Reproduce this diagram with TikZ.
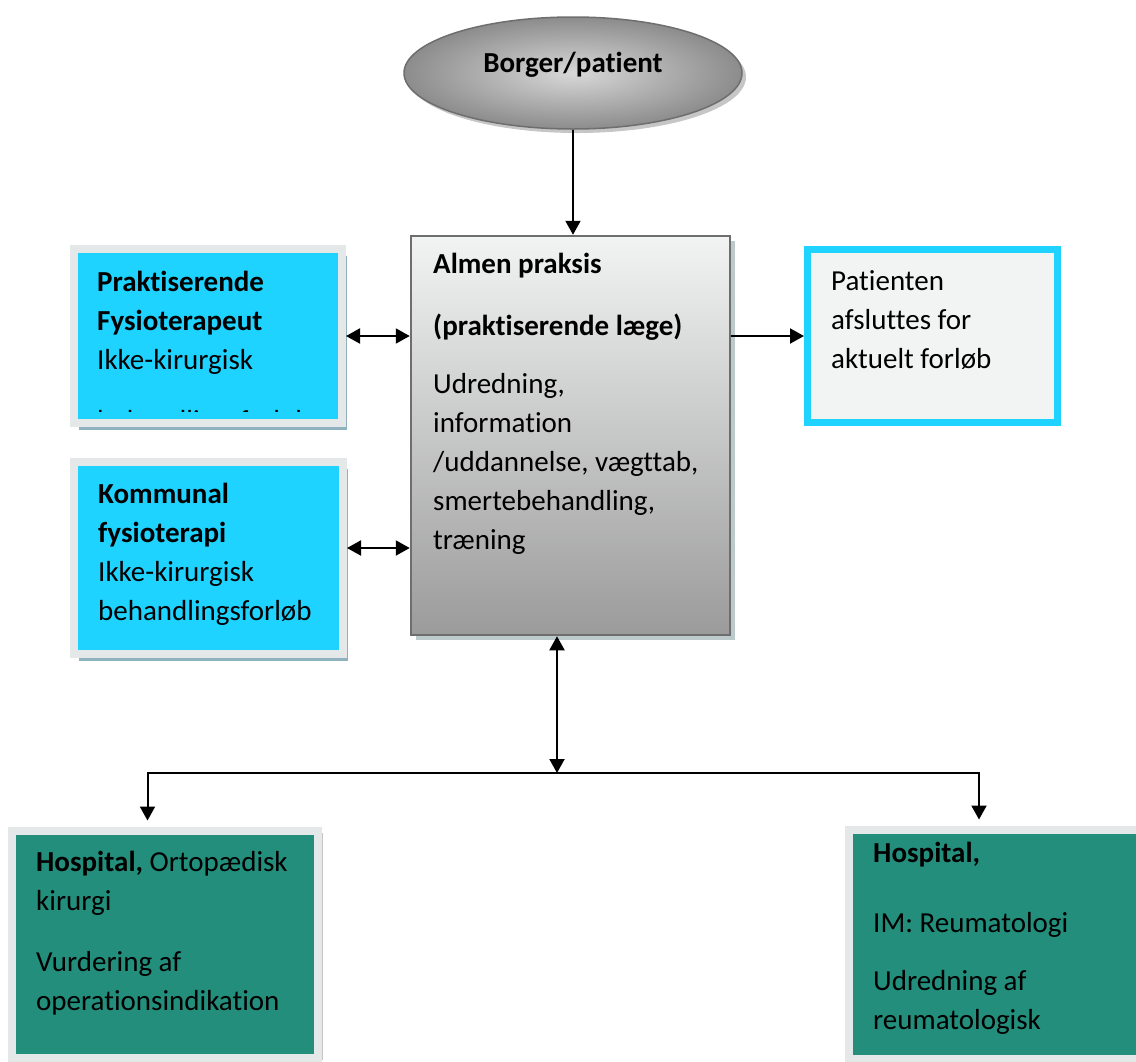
\documentclass[tikz,border=0pt]{standalone}
\usepackage{fontspec}
\setmainfont{Carlito}[Ligatures=NoCommon]
\usepackage{tikz}
\usetikzlibrary{arrows.meta,positioning,shapes.geometric,shadows}
\definecolor{cyanfill}{RGB}{30,211,255}
\definecolor{framegray}{RGB}{228,232,233}
\definecolor{shadowblue}{RGB}{143,178,190}
\definecolor{tealfill}{RGB}{34,142,123}
\definecolor{boxgray}{RGB}{242,243,243}
\definecolor{edgegray}{RGB}{110,110,110}

\begin{document}
\begin{tikzpicture}[x=1pt, y=-1pt,
  txt/.style={anchor=base west, inner sep=0pt, align=flush left, text width=300pt,
              font=\fontsize{29}{39}\selectfont},
  bluebox/.style={draw=framegray, line width=8pt, fill=cyanfill,
              drop shadow={shadow xshift=5pt, shadow yshift=-7pt, fill=shadowblue, opacity=1}},
  tealbox/.style={draw=framegray, line width=8pt, fill=tealfill,
              drop shadow={shadow xshift=5pt, shadow yshift=-2pt, fill=gray!45, opacity=1}},
  arr/.style={-{Triangle[length=14pt,width=15pt]}, line width=2pt},
  darr/.style={{Triangle[length=14pt,width=15pt]}-{Triangle[length=14pt,width=15pt]}, line width=2pt},
]
\useasboundingbox (0,0) rectangle (1136,1061);
\clip (0,0) rectangle (1136,1061);

% top: citizen
\node[ellipse, draw=edgegray, line width=1.5pt, minimum width=338pt, minimum height=112pt,
      inner color={rgb,255:red,216;green,216;blue,216}, outer color={rgb,255:red,140;green,140;blue,140},
      drop shadow={shadow xshift=4pt, shadow yshift=-4pt, fill=gray!45, opacity=1}]
      (borger) at (573,73) {};
\node[txt, anchor=base, text width=] at (573,72) {\textbf{Borger/patient}};

% general practice
\node[draw=edgegray, line width=2.5pt, minimum width=319pt, minimum height=399pt,
      top color=boxgray, bottom color={rgb,255:red,155;green,155;blue,155},
      drop shadow={shadow xshift=5pt, shadow yshift=-5pt, fill={rgb,255:red,188;green,202;blue,203}, opacity=1}]
      (almen) at (570.5,435.5) {};
\node[txt] at (433,273) {\textbf{Almen praksis}\\[23pt]
  \textbf{(praktiserende læge)}\\[19pt]
  Udredning,\\ information\\ /uddannelse, vægttab,\\ smertebehandling,\\ træning};

% physiotherapy
\node[bluebox, minimum width=268pt, minimum height=174pt] (fysio) at (208,336) {};
\begin{scope}
  \clip (77,253) rectangle (337,411);
  \node[txt] at (97,291) {\textbf{Praktiserende}\\ \textbf{Fysioterapeut}\\
    Ikke-kirurgisk\\[22pt] behandlingsforløb};
\end{scope}
\node[bluebox, minimum width=269pt, minimum height=192pt] (kommunal) at (208.5,558) {};
\node[txt] at (98,503) {\textbf{Kommunal}\\ \textbf{fysioterapi}\\
  Ikke-kirurgisk\\ behandlingsforløb};

% end of course
\node[draw=cyanfill, line width=7pt, fill=boxgray, minimum width=250pt, minimum height=173pt]
      (afslut) at (932.5,336) {};
\node[txt] at (831,290) {Patienten\\ afsluttes for\\ aktuelt forløb};

% hospitals
\node[tealbox, minimum width=306pt, minimum height=227pt] (ortopaedi) at (164.5,944) {};
\node[txt] at (36,871) {\textbf{Hospital,} Ortopædisk\\ kirurgi\\[22pt]
  Vurdering af\\ operationsindikation};
\node[tealbox, minimum width=300pt, minimum height=229pt] (reuma) at (999,944) {};
\node[txt] at (873,862) {\textbf{Hospital,}\\[31pt] IM: Reumatologi\\[19pt]
  Udredning af\\ reumatologisk};

% connectors
\coordinate (split) at (557,773);
\draw[arr] (borger.south) -- (borger.south |- almen.north);
\draw[darr] (fysio.east) -- (fysio.east -| almen.west);
\draw[darr] ([yshift=10pt]kommunal.east) -- ([yshift=10pt]kommunal.east -| almen.west);
\draw[arr] (afslut.west -| almen.east) -- (afslut.west);
\draw[darr] (split |- almen.south) -- (split);
\draw[arr, shorten >=6pt] (split) -| ([xshift=-17pt]ortopaedi.north);
\draw[arr, shorten >=6pt] (split) -| ([xshift=-20pt]reuma.north);
\end{tikzpicture}
\end{document}
